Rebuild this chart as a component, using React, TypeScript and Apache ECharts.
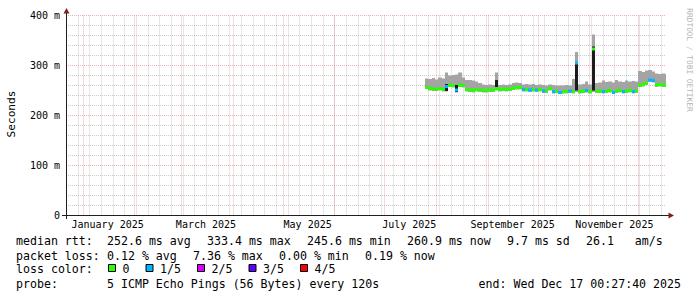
import { useEffect, useRef } from "react";
import * as echarts from "echarts";

// ---------- axis / time range ----------
const DAY = 86400000;
const rangeStartIso = "2024-12-22T00:27:40Z";
const rangeEndIso = "2025-12-17T00:27:40Z";
const xLabelDates = ["2025-01-16", "2025-03-16", "2025-05-16", "2025-07-16", "2025-09-16", "2025-11-16"];
const xLabelTexts = ["January 2025", "March 2025", "May 2025", "July 2025", "September 2025", "November 2025"];
const monthGridDates = [
  "2025-01-01", "2025-02-01", "2025-03-01", "2025-04-01", "2025-05-01", "2025-06-01",
  "2025-07-01", "2025-08-01", "2025-09-01", "2025-10-01", "2025-11-01", "2025-12-01",
];
const firstWeekGridDate = "2024-12-29";
const yTicks = [0, 100, 200, 300, 400];
const yTickLabels = ["0", "100 m", "200 m", "300 m", "400 m"];

// ---------- data (ms), one value every 2 days ----------
const dataStartIso = "2025-07-25T12:00:00Z";
const stepDays = 2;
const medianMs = [
  257, 254, 253, 253, 254, 252, 258, 261, 260, 251, 261, 260, 252, 251, 250, 252, 251, 250, 250, 251,
  251, 254, 252, 253, 252, 253, 255, 256, 256, 252, 252, 251, 252, 251, 252, 249, 249, 254, 248, 249,
  246, 248, 248, 249, 248, 305, 248, 249, 250, 248, 333, 249, 249, 248, 249, 250, 246, 249, 250, 248,
  249, 250, 248, 249, 261, 262, 265, 271, 270, 261, 262, 261, 261,
];
const smokeLowMs = [
  253, 250, 249, 249, 250, 248, 248, 257, 256, 246, 257, 256, 248, 247, 246, 248, 247, 246, 246, 247,
  247, 250, 248, 249, 248, 249, 251, 252, 252, 248, 248, 247, 248, 247, 248, 245, 245, 250, 244, 245,
  243, 244, 244, 245, 244, 247, 244, 245, 246, 244, 247, 245, 245, 244, 245, 246, 243, 245, 246, 244,
  245, 246, 244, 245, 257, 258, 261, 267, 266, 257, 258, 257, 257,
];
const smokeHighMs = [
  274, 273, 275, 272, 276, 274, 286, 280, 281, 282, 286, 276, 271, 271, 270, 268, 265, 262, 261, 262,
  261, 286, 261, 262, 261, 262, 265, 266, 265, 262, 263, 262, 263, 261, 262, 261, 260, 262, 261, 260,
  260, 260, 261, 260, 273, 327, 262, 263, 268, 262, 362, 265, 266, 270, 267, 268, 266, 271, 268, 267,
  270, 268, 269, 268, 289, 287, 290, 291, 288, 284, 283, 284, 283,
];
const lossCount = [
  0, 0, 0, 0, 0, 0, 1, 0, 0, 1, 0, 0, 0, 0, 0, 0, 0, 0, 0, 0,
  0, 0, 0, 0, 0, 0, 0, 0, 0, 1, 0, 1, 0, 1, 0, 1, 0, 0, 1, 0,
  1, 0, 0, 1, 0, 1, 0, 0, 1, 0, 0, 0, 0, 1, 0, 0, 1, 0, 0, 1,
  0, 0, 1, 0, 0, 0, 0, 1, 1, 0, 0, 0, 0,
];
const darkIndex = [6, 9, 21, 45, 48, 50];
const darkLowMs = [249, 247, 253, 250, 247, 250];
const darkHighMs = [263, 261, 271, 305, 252, 338];

// ---------- legend texts ----------
const lossLabels = ["0", "1/5", "2/5", "3/5", "4/5"];
const lossColors = ["#26ff00", "#00b8ff", "#dd00ff", "#5e00ff", "#ff0000"];
const rttItems = ["252.6 ms avg", "333.4 ms max", "245.6 ms min", "260.9 ms now", "9.7 ms sd", "26.1   am/s"];
const lossItems = ["0.12 % avg", "7.36 % max", "0.00 % min", "0.19 % now"];
const probeText = "5 ICMP Echo Pings (56 Bytes) every 120s";
const endText = "end: Wed Dec 17 00:27:40 2025";

const MONO = '"DejaVu Sans Mono", "Liberation Mono", monospace';
const SMOKE = "#a4a4a4";
const DARK = "#1c1c1c";
const MINOR = "rgba(143,143,143,0.45)";
const MAJOR = "rgba(222,79,79,0.45)";
const AXIS = "#1f1f1f";
const ARROW = "#7f1f1f";

export default function App() {
  const ref = useRef<HTMLDivElement>(null);

  useEffect(() => {
    if (!ref.current) return;
    const chart = echarts.init(ref.current, undefined, { renderer: "svg" });

    const rangeStart = Date.parse(rangeStartIso);
    const rangeEnd = Date.parse(rangeEndIso);
    const dataStart = Date.parse(dataStartIso);
    const stepMs = stepDays * DAY;
    const xLabelMs = xLabelDates.map((d) => Date.parse(d + "T00:00:00Z"));

    const gridData: number[][] = [];
    for (let t = Date.parse(firstWeekGridDate + "T00:00:00Z"); t < rangeEnd; t += 7 * DAY) gridData.push([t, 0]);
    monthGridDates.forEach((d) => gridData.push([Date.parse(d + "T00:00:00Z"), 1]));

    const smokeData = medianMs.map((m, i) => {
      const k = darkIndex.indexOf(i);
      return [
        dataStart + i * stepMs,
        smokeLowMs[i],
        smokeHighMs[i],
        m,
        lossCount[i],
        k >= 0 ? darkLowMs[k] : 0,
        k >= 0 ? darkHighMs[k] : 0,
      ];
    });

    // legend layout
    const CH = 7;
    const GAP = 16;
    const col = 107;
    const graphics: any[] = [];
    const txt = (x: number, y: number, s: string, opts: any = {}) =>
      graphics.push({
        type: "text",
        x,
        y,
        rotation: opts.rotation || 0,
        silent: true,
        style: {
          text: s,
          fontFamily: MONO,
          fontSize: opts.size || 11.6,
          fill: opts.fill || "#000",
          align: opts.align || "left",
          verticalAlign: "middle",
        },
      });
    txt(16, 241, "median rtt:");
    let x = col;
    rttItems.forEach((s) => {
      txt(x, 241, s);
      x += s.length * CH + GAP;
    });
    txt(16, 255.5, "packet loss:");
    x = col;
    lossItems.forEach((s) => {
      txt(x, 255.5, s);
      x += s.length * CH + GAP;
    });
    txt(16, 269, "loss color:");
    x = 108;
    lossLabels.forEach((s, i) => {
      graphics.push({
        type: "rect",
        silent: true,
        shape: { x: x + 0.5, y: 264.5, width: 7, height: 7 },
        style: { fill: lossColors[i], stroke: "#000", lineWidth: 1 },
      });
      txt(x + 14.5, 269, s);
      x += 14.5 + s.length * CH + GAP;
    });
    txt(16, 283.5, "probe:");
    txt(col, 283.5, probeText);
    txt(681, 283.5, endText, { align: "right" });
    txt(11, 114, "Seconds", { rotation: Math.PI / 2, align: "center", size: 11.2 });
    txt(689, 60, "RRDTOOL / TOBI OETIKER", { rotation: -Math.PI / 2, align: "center", size: 7.8, fill: "#b4b4b4" });

    // axis stubs and arrows
    graphics.push(
      { type: "line", silent: true, shape: { x1: 62, y1: 215.5, x2: 66, y2: 215.5 }, style: { stroke: AXIS, lineWidth: 1 } },
      { type: "line", silent: true, shape: { x1: 666, y1: 215.5, x2: 669, y2: 215.5 }, style: { stroke: AXIS, lineWidth: 1 } },
      { type: "line", silent: true, shape: { x1: 66.5, y1: 215.5, x2: 66.5, y2: 219 }, style: { stroke: AXIS, lineWidth: 1 } },
      { type: "line", silent: true, shape: { x1: 66.5, y1: 13, x2: 66.5, y2: 15.5 }, style: { stroke: AXIS, lineWidth: 1 } },
      { type: "polygon", silent: true, shape: { points: [[668.5, 212.5], [674, 215.5], [668.5, 218.5]] }, style: { fill: ARROW } },
      { type: "polygon", silent: true, shape: { points: [[63.5, 13.5], [66.5, 8], [69.5, 13.5]] }, style: { fill: ARROW } }
    );

    chart.setOption({
      animation: false,
      backgroundColor: "#ffffff",
      grid: { left: 66, right: 31, top: 15.5, bottom: 81.5, containLabel: false },
      xAxis: {
        type: "value",
        min: rangeStart,
        max: rangeEnd,
        axisLine: { show: true, onZero: false, lineStyle: { color: AXIS, width: 1 } },
        axisTick: { show: false },
        splitLine: { show: false },
        axisLabel: {
          customValues: xLabelMs,
          formatter: (v: number) => {
            const k = xLabelMs.indexOf(v);
            return k >= 0 ? xLabelTexts[k] : "";
          },
          fontFamily: MONO,
          fontSize: 10,
          color: "#000",
          margin: 4,
        },
      },
      yAxis: {
        type: "value",
        min: 0,
        max: 400,
        interval: 100,
        axisLine: { show: true, lineStyle: { color: AXIS, width: 1 } },
        axisTick: { show: false },
        axisLabel: {
          formatter: (v: number) => {
            const k = yTicks.indexOf(v);
            return k >= 0 ? yTickLabels[k] : "";
          },
          fontFamily: MONO,
          fontSize: 10,
          color: "#000",
          margin: 6,
        },
        splitLine: { show: true, lineStyle: { color: MAJOR, width: 1, type: [1, 1] } },
        minorTick: { show: false, splitNumber: 5 },
        minorSplitLine: { show: true, lineStyle: { color: MINOR, width: 1, type: [1, 1] } },
      },
      series: [
        {
          type: "custom",
          name: "grid",
          silent: true,
          z: 1,
          data: gridData,
          encode: { x: 0, y: 1 },
          renderItem: (_p: any, api: any) => {
            const t = api.value(0);
            const kind = api.value(1);
            const p0 = api.coord([t, 0]);
            const p1 = api.coord([t, 400]);
            const gx = Math.round(p0[0]) + 0.5;
            return {
              type: "line",
              shape: { x1: gx, y1: p1[1], x2: gx, y2: p0[1] },
              style: { stroke: kind ? MAJOR : MINOR, lineWidth: 1, lineDash: [1, 1] },
            };
          },
        },
        {
          type: "custom",
          name: "smoke",
          silent: true,
          z: 3,
          data: smokeData,
          encode: { x: 0, y: [1, 2] },
          renderItem: (_p: any, api: any) => {
            const t = api.value(0);
            const lo = api.value(1);
            const hi = api.value(2);
            const med = api.value(3);
            const loss = api.value(4);
            const dlo = api.value(5);
            const dhi = api.value(6);
            const xEnd = Math.round(api.coord([rangeEnd, 0])[0]);
            const xa = Math.round(api.coord([t, 0])[0]);
            const xb = Math.min(xEnd, Math.round(api.coord([t + stepMs, 0])[0]));
            const w = xb - xa;
            if (w <= 0) return null;
            const yLo = api.coord([t, lo])[1];
            const yHi = api.coord([t, hi])[1];
            const yM = api.coord([t, med])[1];
            const children: any[] = [
              { type: "rect", shape: { x: xa, y: yHi, width: w, height: yLo - yHi }, style: { fill: SMOKE } },
            ];
            if (dhi > 0) {
              const yDl = api.coord([t, dlo])[1];
              const yDh = api.coord([t, dhi])[1];
              children.push({
                type: "rect",
                shape: { x: xa, y: yDh, width: w, height: yDl - yDh },
                style: { fill: DARK },
              });
            }
            children.push({
              type: "rect",
              shape: { x: xa, y: yM - 1.5, width: w, height: 3 },
              style: { fill: lossColors[loss] },
            });
            return { type: "group", children };
          },
        },
      ],
      graphic: graphics,
    });

    return () => chart.dispose();
  }, []);

  return (
    <div
      ref={ref}
      style={{ position: "fixed", left: 0, top: 0, width: 697, height: 297, background: "#fff" }}
    />
  );
}
